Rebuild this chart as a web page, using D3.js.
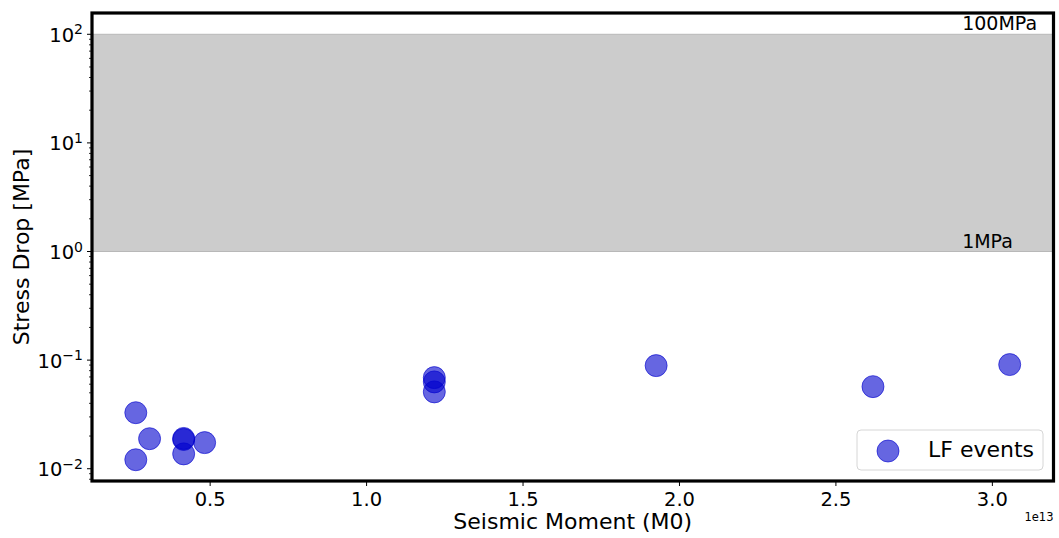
<!DOCTYPE html>
<html>
<head>
<meta charset="utf-8">
<script src="https://cdn.jsdelivr.net/npm/d3@7"></script>
<style>
  body { margin: 0; background: #fff; }
  text { font-family: "DejaVu Sans", sans-serif; fill: #000; }
</style>
</head>
<body>
<svg id="chart"></svg>
<script>
// Data (seismic moment in N·m, stress drop in MPa)
const moment = [0.264e13, 0.308e13, 0.264e13, 0.417e13, 0.417e13, 0.417e13, 0.484e13,
                1.218e13, 1.218e13, 1.218e13, 1.927e13, 2.62e13, 3.057e13];
const stressDrop = [0.0328, 0.0189, 0.0121, 0.0190, 0.0186, 0.0137, 0.0174,
                    0.069, 0.063, 0.051, 0.089, 0.057, 0.091];
const xTicks = [0.5e13, 1.0e13, 1.5e13, 2.0e13, 2.5e13, 3.0e13];
const yTicks = [1e-2, 1e-1, 1e0, 1e1, 1e2];
const bandLow = 1, bandHigh = 100;
const bandLabels = ["1MPa", "100MPa"];
const seriesName = "LF events";

// Chart Configuration
const W = 1059, H = 538;
const margin = { top: 13, right: 5.5, bottom: 57, left: 92 };
const width = W - margin.left - margin.right;
const height = H - margin.top - margin.bottom;

const svg = d3.select("#chart").attr("width", W).attr("height", H);
const g = svg.append("g").attr("transform", `translate(${margin.left},${margin.top})`);

// Scales
const xScale = d3.scaleLinear().domain([0.124e13, 3.197e13]).range([0, width]);
const yScale = d3.scaleLog().domain([Math.pow(10, -2.113), Math.pow(10, 2.196)]).range([height, 0]);

// Shaded band between 1 and 100 MPa
g.append("rect")
  .attr("x", 0)
  .attr("width", width)
  .attr("y", yScale(bandHigh))
  .attr("height", yScale(bandLow) - yScale(bandHigh))
  .attr("fill", "#cccccc")
  .attr("stroke", "#b8b8b8")
  .attr("stroke-width", 1);

// Band labels
[bandLow, bandHigh].forEach((v, i) => {
  g.append("text")
    .attr("x", xScale(2.905e13))
    .attr("y", yScale(v) - 4)
    .style("font-size", "19px")
    .text(bandLabels[i]);
});

// Points
g.selectAll("circle.pt")
  .data(moment.map((m, i) => ({ m: m, s: stressDrop[i] })))
  .join("circle")
  .attr("class", "pt")
  .attr("cx", d => xScale(d.m))
  .attr("cy", d => yScale(d.s))
  .attr("r", 11)
  .attr("fill", "mediumblue")
  .attr("fill-opacity", 0.6)
  .attr("stroke", "mediumblue")
  .attr("stroke-opacity", 0.6)
  .attr("stroke-width", 1);

// X axis
const xAxis = d3.axisBottom(xScale)
  .tickValues(xTicks)
  .tickSize(5)
  .tickPadding(6)
  .tickFormat(d => (d / 1e13).toFixed(1));
const xAxisGroup = g.append("g").attr("transform", `translate(0,${height})`).call(xAxis);
xAxisGroup.select(".domain").remove();
xAxisGroup.selectAll("text").style("font-size", "19.5px").style("font-family", "DejaVu Sans");

// Y axis: major ticks with mathtext-like labels
const yAxisGroup = g.append("g");
const minor = [];
for (let e = -3; e <= 2; e++) {
  for (let k = 2; k <= 9; k++) {
    const v = k * Math.pow(10, e);
    if (v >= yScale.domain()[0] && v <= yScale.domain()[1]) minor.push(v);
  }
}
yAxisGroup.selectAll("line.minor")
  .data(minor)
  .join("line")
  .attr("x1", -3).attr("x2", 0)
  .attr("y1", d => yScale(d)).attr("y2", d => yScale(d))
  .attr("stroke", "#000").attr("stroke-width", 0.8);
yAxisGroup.selectAll("line.major")
  .data(yTicks)
  .join("line")
  .attr("x1", -5).attr("x2", 0)
  .attr("y1", d => yScale(d)).attr("y2", d => yScale(d))
  .attr("stroke", "#000").attr("stroke-width", 1);
const yLabels = yAxisGroup.selectAll("text.ylab")
  .data(yTicks)
  .join("text")
  .attr("x", -9)
  .attr("y", d => yScale(d) + 7.5)
  .attr("text-anchor", "end")
  .style("font-size", "19.5px");
yLabels.append("tspan").text("10");
yLabels.append("tspan")
  .attr("dy", -7.5)
  .style("font-size", "14px")
  .text(d => {
    const e = Math.round(Math.log10(d));
    return e < 0 ? "\u2212" + Math.abs(e) : String(e);
  });

// Offset text
svg.append("text")
  .attr("x", margin.left + width)
  .attr("y", 521)
  .attr("text-anchor", "end")
  .style("font-size", "11.5px")
  .text("1e13");

// Axis labels
svg.append("text")
  .attr("x", margin.left + width / 2)
  .attr("y", 529)
  .attr("text-anchor", "middle")
  .style("font-size", "22px")
  .text("Seismic Moment (M0)");
svg.append("text")
  .attr("transform", `translate(29,${margin.top + height / 2}) rotate(-90)`)
  .attr("text-anchor", "middle")
  .style("font-size", "22px")
  .text("Stress Drop [MPa]");

// Legend
const legend = g.append("g").attr("transform", `translate(${857 - margin.left},${430 - margin.top})`);
legend.append("rect")
  .attr("width", 186).attr("height", 40).attr("rx", 4)
  .attr("fill", "#fff").attr("fill-opacity", 0.8)
  .attr("stroke", "#d6d6d6").attr("stroke-width", 1);
legend.append("circle")
  .attr("cx", 31).attr("cy", 21).attr("r", 11)
  .attr("fill", "mediumblue").attr("fill-opacity", 0.6)
  .attr("stroke", "mediumblue").attr("stroke-opacity", 0.6);
legend.append("text")
  .attr("x", 71).attr("y", 27)
  .style("font-size", "22px")
  .text(seriesName);

// Spines (thick frame)
g.append("rect")
  .attr("width", width).attr("height", height)
  .attr("fill", "none")
  .attr("stroke", "#000")
  .attr("stroke-width", 3.2);
</script>
</body>
</html>
